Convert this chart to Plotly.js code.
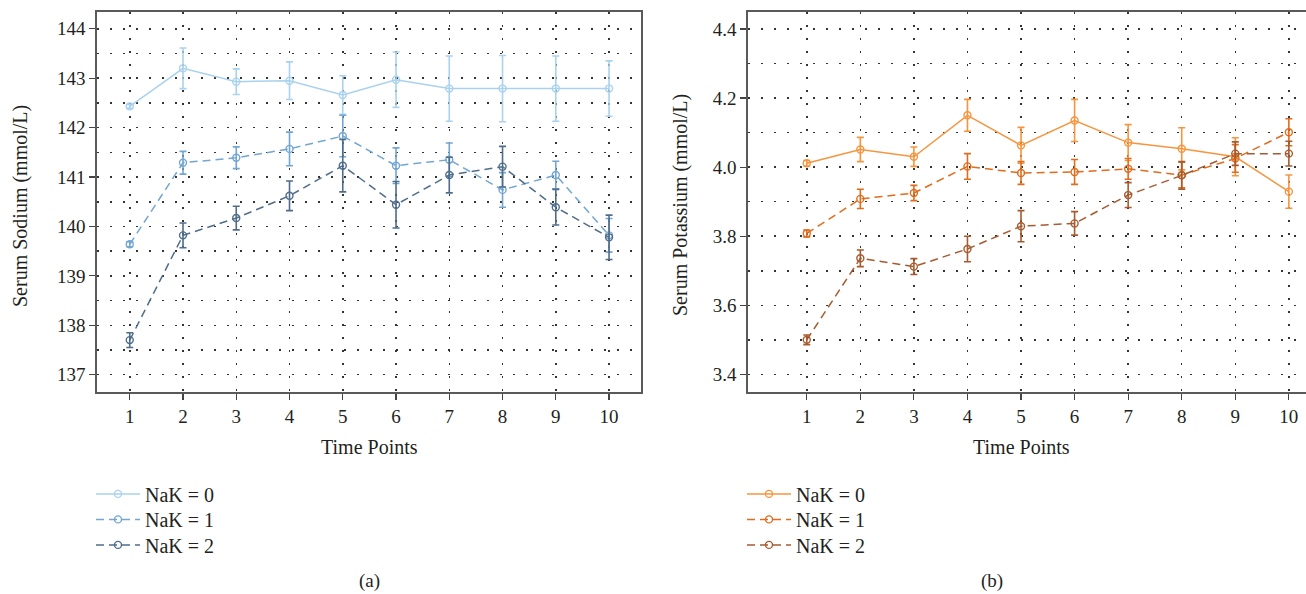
<!DOCTYPE html>
<html>
<head>
<meta charset="utf-8">
<script src="https://cdn.plot.ly/plotly-3.0.1.min.js"></script>
<style>html,body{margin:0;padding:0;background:#fff;}#chart{width:1306px;height:594px;}</style>
</head>
<body>
<div id="chart"></div>
<script>
// ---- data ----
const timePoints = [1, 2, 3, 4, 5, 6, 7, 8, 9, 10];
const seriesNames = ["NaK = 0", "NaK = 1", "NaK = 2"];

// Serum sodium (mmol/L)
const sodium0 = [142.43, 143.20, 142.93, 142.95, 142.66, 142.97, 142.79, 142.79, 142.79, 142.79];
const sodium0Err = [0.04, 0.41, 0.26, 0.38, 0.39, 0.56, 0.66, 0.67, 0.66, 0.56];
const sodium1 = [139.64, 141.29, 141.39, 141.57, 141.83, 141.23, 141.35, 140.74, 141.04, 139.82];
const sodium1Err = [0.05, 0.23, 0.22, 0.34, 0.42, 0.36, 0.34, 0.35, 0.28, 0.34];
const sodium2 = [137.70, 139.82, 140.17, 140.62, 141.23, 140.44, 141.04, 141.21, 140.39, 139.78];
const sodium2Err = [0.15, 0.25, 0.24, 0.30, 0.53, 0.47, 0.36, 0.41, 0.36, 0.45];

// Serum potassium (mmol/L)
const potassium0 = [4.011, 4.051, 4.030, 4.150, 4.063, 4.135, 4.071, 4.053, 4.030, 3.929];
const potassium0Err = [0.008, 0.035, 0.028, 0.046, 0.052, 0.061, 0.052, 0.061, 0.055, 0.048];
const potassium1 = [3.808, 3.908, 3.925, 4.002, 3.983, 3.986, 3.995, 3.977, 4.025, 4.101];
const potassium1Err = [0.010, 0.028, 0.022, 0.037, 0.033, 0.036, 0.030, 0.037, 0.040, 0.039];
const potassium2 = [3.500, 3.736, 3.712, 3.763, 3.829, 3.837, 3.919, 3.976, 4.039, 4.039];
const potassium2Err = [0.014, 0.024, 0.023, 0.037, 0.045, 0.034, 0.036, 0.040, 0.034, 0.036];

const sodiumTicks = [137, 138, 139, 140, 141, 142, 143, 144];
const sodiumGrid = [137, 137.5, 138, 138.5, 139, 139.5, 140, 140.5, 141, 141.5, 142, 142.5, 143, 143.5, 144];
const potassiumTicks = [3.4, 3.6, 3.8, 4.0, 4.2, 4.4];
const potassiumTickText = ["3.4", "3.6", "3.8", "4.0", "4.2", "4.4"];
const potassiumGrid = [3.4, 3.5, 3.6, 3.7, 3.8, 3.9, 4.0, 4.1, 4.2, 4.3, 4.4];

// ---- styles ----
const blueColors = ["#a9d2ee", "#73a6d1", "#4f6d8a"];
const orangeColors = ["#f7953e", "#e06c1d", "#a65b2f"];
const dashes = ["solid", "8px,5px", "8px,5px"];
const FONT = "Liberation Serif, Times New Roman, serif";
const TXT = "#231f20";

function mk(x, y, err, name, color, dash, xa, ya, legend) {
  return {
    type: "scatter", mode: "lines+markers", x: x, y: y, name: name,
    xaxis: xa, yaxis: ya, legend: legend,
    line: {color: color, width: 1.5, dash: dash},
    marker: {symbol: "circle-open", size: 7, color: color, line: {width: 1.4, color: color}},
    error_y: {type: "data", array: err, visible: true, color: color, thickness: 1.6, width: 3.5}
  };
}

const traces = [
  // empty helper traces so the grid-only overlay axes exist
  {type: "scatter", x: [], y: [], xaxis: "x", yaxis: "y3", showlegend: false, hoverinfo: "skip"},
  {type: "scatter", x: [], y: [], xaxis: "x2", yaxis: "y4", showlegend: false, hoverinfo: "skip"},
  mk(timePoints, sodium0, sodium0Err, seriesNames[0], blueColors[0], dashes[0], "x", "y", "legend"),
  mk(timePoints, sodium1, sodium1Err, seriesNames[1], blueColors[1], dashes[1], "x", "y", "legend2"),
  mk(timePoints, sodium2, sodium2Err, seriesNames[2], blueColors[2], dashes[2], "x", "y", "legend3"),
  mk(timePoints, potassium0, potassium0Err, seriesNames[0], orangeColors[0], dashes[0], "x2", "y2", "legend4"),
  mk(timePoints, potassium1, potassium1Err, seriesNames[1], orangeColors[1], dashes[1], "x2", "y2", "legend5"),
  mk(timePoints, potassium2, potassium2Err, seriesNames[2], orangeColors[2], dashes[2], "x2", "y2", "legend6")
];

const gridDash = "1.5px,11.5px";
const gridColor = "#333";
const gridW = 1.5;
const axisCommon = {
  showline: true, linecolor: "#5a5a5a", linewidth: 1.8,
  ticks: "outside", ticklen: 6, tickwidth: 1.2, tickcolor: "#444",
  showgrid: true, gridcolor: gridColor, gridwidth: gridW, griddash: gridDash,
  zeroline: false, tickfont: {family: FONT, size: 19, color: TXT}
};
const gridOnly = {
  showline: false, ticks: "", showticklabels: false, zeroline: false,
  showgrid: true, gridcolor: gridColor, gridwidth: gridW, griddash: gridDash
};

const W = 1306;
const sodiumRange = [136.65, 144.34];
const potassiumRange = [3.349, 4.449];

function legendAt(xPx, rowCenterPx) {
  return {
    x: xPx / W, xanchor: "left", y: -(rowCenterPx - 18.6 - 392) / 380, yanchor: "top",
    bgcolor: "rgba(0,0,0,0)", font: {family: FONT, size: 20, color: TXT},
    itemwidth: 44, tracegroupgap: 0
  };
}

const layout = {
  width: 1306, height: 594,
  margin: {l: 0, r: 0, t: 12, b: 202},
  paper_bgcolor: "#fff", plot_bgcolor: "#fff",
  font: {family: FONT, color: TXT},
  showlegend: true,
  xaxis: Object.assign({}, axisCommon, {
    domain: [97 / W, 641 / W], range: [0.385, 10.6], tickvals: timePoints, mirror: true, anchor: "y"
  }),
  yaxis: Object.assign({}, axisCommon, {
    domain: [0, 1], range: sodiumRange, tickvals: sodiumTicks, mirror: true, anchor: "x", showgrid: false
  }),
  yaxis3: Object.assign({}, gridOnly, {
    overlaying: "y", anchor: "x", range: sodiumRange, tickvals: sodiumGrid
  }),
  xaxis2: Object.assign({}, axisCommon, {
    domain: [748 / W, 1], range: [-0.097, 10.32], tickvals: timePoints, mirror: true, anchor: "y2"
  }),
  yaxis2: Object.assign({}, axisCommon, {
    domain: [0, 1], range: potassiumRange, tickvals: potassiumTicks, ticktext: potassiumTickText,
    mirror: false, anchor: "x2", showgrid: false
  }),
  yaxis4: Object.assign({}, gridOnly, {
    overlaying: "y2", anchor: "x2", range: potassiumRange, tickvals: potassiumGrid
  }),
  legend: legendAt(91, 493),
  legend2: legendAt(91, 518.5),
  legend3: legendAt(91, 544),
  legend4: legendAt(742, 493),
  legend5: legendAt(742, 518.5),
  legend6: legendAt(742, 544),
  annotations: [
    {text: "Serum Sodium (mmol/L)", xref: "paper", yref: "paper", x: 20 / W, y: (392 - 206) / 380, xanchor: "center", yanchor: "middle", textangle: -90, showarrow: false, font: {family: FONT, size: 20, color: TXT}},
    {text: "Serum Potassium (mmol/L)", xref: "paper", yref: "paper", x: 680 / W, y: (392 - 205) / 380, xanchor: "center", yanchor: "middle", textangle: -90, showarrow: false, font: {family: FONT, size: 20, color: TXT}},
    {text: "Time Points", xref: "paper", yref: "paper", x: 369 / W, y: (392 - 447) / 380, xanchor: "center", yanchor: "middle", showarrow: false, font: {family: FONT, size: 20, color: TXT}},
    {text: "Time Points", xref: "paper", yref: "paper", x: 1021 / W, y: (392 - 447) / 380, xanchor: "center", yanchor: "middle", showarrow: false, font: {family: FONT, size: 20, color: TXT}},
    {text: "(a)", xref: "paper", yref: "paper", x: 369 / W, y: (392 - 581) / 380, xanchor: "center", yanchor: "middle", showarrow: false, font: {family: FONT, size: 19, color: TXT}},
    {text: "(b)", xref: "paper", yref: "paper", x: 992 / W, y: (392 - 581) / 380, xanchor: "center", yanchor: "middle", showarrow: false, font: {family: FONT, size: 19, color: TXT}}
  ]
};

Plotly.newPlot("chart", traces, layout, {displayModeBar: false, staticPlot: true});
</script>
</body>
</html>
